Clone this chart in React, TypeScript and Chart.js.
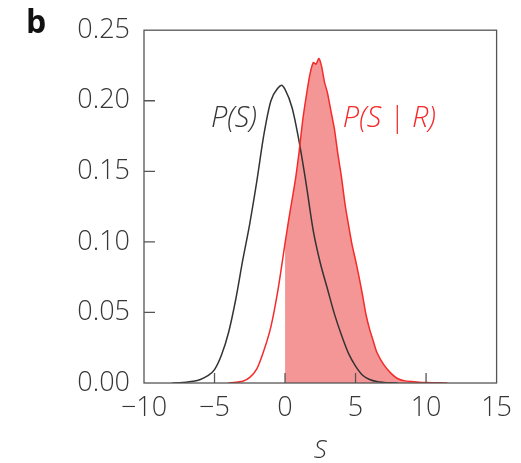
import { useEffect, useRef } from "react";
import { Chart, registerables } from "chart.js";

Chart.register(...registerables);

const xTicks = [-10, -5, 0, 5, 10, 15];
const yTicks = [0, 0.05, 0.1, 0.15, 0.2, 0.25];
const xInnerTicks = [-5, 0, 5, 10];
const yInnerTicks = [0.05, 0.1, 0.15, 0.2];

const priorS = [-8, -7.5, -7, -6.5, -6, -5.5, -5, -4.5, -4, -3.5, -3, -2.5, -2, -1.5, -1, -0.5, -0.25, 0, 0.5, 1, 1.5, 2, 2.5, 3, 3.5, 4, 4.5, 5, 5.5, 6, 6.5, 7, 7.5, 8];
const priorP = [0, 0.0002, 0.0006, 0.0012, 0.0025, 0.005, 0.0095, 0.02, 0.036, 0.059, 0.087, 0.113, 0.143, 0.176, 0.2, 0.209, 0.211, 0.208, 0.195, 0.171, 0.141, 0.108, 0.085, 0.067, 0.049, 0.034, 0.021, 0.012, 0.0055, 0.0025, 0.001, 0.0004, 0.0001, 0];

const postS = [-4, -3.5, -3, -2.5, -2, -1.5, -1, -0.5, 0, 0.25, 0.5, 0.75, 1, 1.25, 1.5, 1.75, 2, 2.2, 2.4, 2.6, 2.8, 3, 3.25, 3.5, 3.75, 4, 4.25, 4.5, 4.75, 5, 5.25, 5.5, 5.75, 6, 6.25, 6.5, 7, 7.5, 8, 8.5, 9, 9.5, 10, 11, 11.5];
const postP = [0, 0.0005, 0.0012, 0.004, 0.01, 0.023, 0.04, 0.066, 0.099, 0.115, 0.13, 0.145, 0.164, 0.186, 0.203, 0.218, 0.227, 0.226, 0.23, 0.224, 0.213, 0.206, 0.193, 0.18, 0.162, 0.146, 0.127, 0.112, 0.098, 0.087, 0.075, 0.062, 0.048, 0.038, 0.03, 0.022, 0.013, 0.007, 0.003, 0.0015, 0.001, 0.0005, 0.0003, 0.0001, 0];

const panelLabel = "b";
const priorLabel = "P(S)";
const postLabel = "P(S | R)";
const xTitle = "S";

const FONT = "'Open Sans', 'DejaVu Sans', sans-serif";
const TEXT = "#363636";
const RED = "#f52a2a";
const FILL = "#f59696";

export default function App() {
  const ref = useRef<HTMLCanvasElement>(null);

  useEffect(() => {
    if (!ref.current) return;
    const prior = priorS.map((x, i) => ({ x, y: priorP[i] }));
    const post = postS.map((x, i) => ({ x, y: postP[i] }));
    const postPositive = post.filter((p) => p.x >= 0);

    const overlay = {
      id: "overlay",
      afterDatasetsDraw(chart: any) {
        const { ctx, chartArea, scales } = chart;
        const { left, right, top, bottom } = chartArea;
        ctx.save();
        ctx.strokeStyle = "#555555";
        ctx.lineWidth = 1.3;
        ctx.strokeRect(left, top, right - left, bottom - top);
        ctx.beginPath();
        yInnerTicks.forEach((v) => {
          const y = scales.y.getPixelForValue(v);
          ctx.moveTo(left, y);
          ctx.lineTo(left + 11, y);
        });
        xInnerTicks.forEach((v) => {
          const x = scales.x.getPixelForValue(v);
          ctx.moveTo(x, bottom);
          ctx.lineTo(x, bottom - 10);
        });
        ctx.stroke();

        ctx.textBaseline = "middle";
        ctx.font = `italic 300 29px ${FONT}`;
        ctx.fillStyle = TEXT;
        ctx.textAlign = "right";
        ctx.fillText(priorLabel, scales.x.getPixelForValue(-2), scales.y.getPixelForValue(0.187));
        ctx.fillStyle = RED;
        ctx.textAlign = "left";
        ctx.fillText(postLabel, scales.x.getPixelForValue(4.1), scales.y.getPixelForValue(0.187));

        ctx.fillStyle = "#111111";
        ctx.font = `bold 32px ${FONT}`;
        ctx.textAlign = "left";
        ctx.textBaseline = "alphabetic";
        ctx.fillText(panelLabel, 26, 33);
        ctx.restore();
      },
    };

    const chart = new Chart(ref.current, {
      type: "line",
      data: {
        datasets: [
          {
            data: postPositive,
            borderWidth: 0,
            borderColor: "rgba(0,0,0,0)",
            backgroundColor: FILL,
            fill: "origin",
            pointRadius: 0,
            tension: 0.2,
            order: 3,
          },
          {
            data: prior,
            borderColor: "#333333",
            borderWidth: 1.5,
            fill: false,
            pointRadius: 0,
            cubicInterpolationMode: "monotone",
            order: 2,
          },
          {
            data: post,
            borderColor: RED,
            borderWidth: 1.5,
            fill: false,
            pointRadius: 0,
            tension: 0.2,
            order: 1,
          },
        ],
      },
      options: {
        responsive: false,
        animation: false,
        layout: { padding: { left: 0, right: 22, top: 28, bottom: 0 } },
        plugins: { legend: { display: false }, tooltip: { enabled: false } },
        scales: {
          x: {
            type: "linear",
            min: -10,
            max: 15,
            afterBuildTicks: (s: any) => {
              s.ticks = xTicks.map((v) => ({ value: v }));
            },
            afterFit: (s: any) => {
              s.height = 80;
            },
            grid: { display: false, drawTicks: false },
            border: { display: false },
            ticks: {
              padding: 9,
              color: TEXT,
              font: { family: FONT, size: 27, weight: "300" },
              maxRotation: 0,
              callback: (v: any) => String(v).replace("-", "\u2212"),
            },
            title: {
              display: true,
              text: xTitle,
              color: TEXT,
              font: { family: FONT, size: 26, style: "italic", weight: "300" },
              padding: { top: 0, bottom: -3 },
            },
          },
          y: {
            type: "linear",
            min: 0,
            max: 0.25,
            afterBuildTicks: (s: any) => {
              s.ticks = yTicks.map((v) => ({ value: v }));
            },
            afterFit: (s: any) => {
              s.width = 144;
            },
            grid: { display: false, drawTicks: false },
            border: { display: false },
            ticks: {
              padding: 14,
              color: TEXT,
              font: { family: FONT, size: 27, weight: "300" },
              callback: (v: any) => Number(v).toFixed(2),
            },
          },
        },
      },
      plugins: [overlay],
    });
    return () => chart.destroy();
  }, []);

  return (
    <div style={{ position: "absolute", left: 0, top: 0, width: 521, height: 463, background: "#fff" }}>
      <canvas ref={ref} width={521} height={463} style={{ display: "block" }} />
    </div>
  );
}
